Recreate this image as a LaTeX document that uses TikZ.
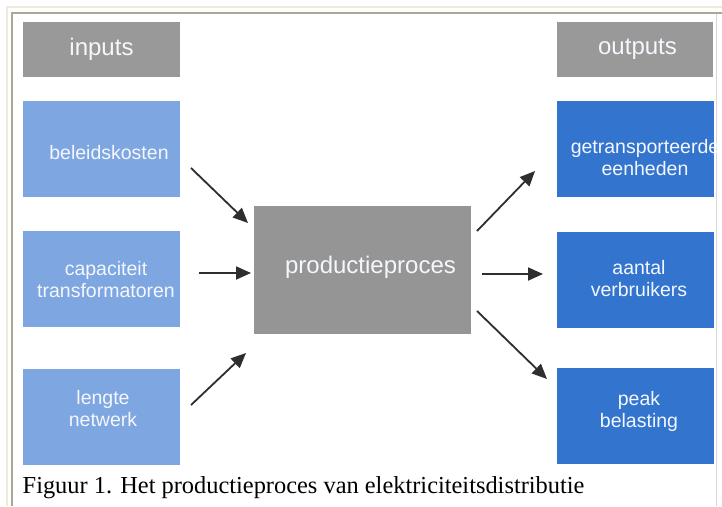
\documentclass[tikz,border=0pt]{standalone}
\usepackage{fontspec}
\setmainfont{Liberation Sans}
\newfontfamily\capfont{Liberation Serif}
\usetikzlibrary{arrows.meta}
\definecolor{lblue}{HTML}{7EA6E0}
\definecolor{dblue}{HTML}{3274CE}
\definecolor{hgrey}{HTML}{999999}
\definecolor{pgrey}{HTML}{959595}
\definecolor{frameA}{HTML}{EEEBDD}
\definecolor{frameB}{HTML}{ACA899}
\definecolor{frameC}{HTML}{D6D6D6}
\definecolor{txtw}{HTML}{F4F7FC}
\definecolor{arrc}{HTML}{2E2E2E}
\tikzset{
  boxbase/.style={draw=none,minimum width=157pt,inner sep=0pt,anchor=center},
  headbox/.style={boxbase,fill=hgrey,minimum height=55pt},
  inbox/.style={boxbase,fill=lblue,minimum height=96pt},
  outbox/.style={boxbase,fill=dblue,minimum height=96pt},
  btxt/.style={text=txtw,align=center,inner sep=0pt,font=\fontsize{19.5}{22}\selectfont},
  htxt/.style={text=txtw,inner sep=0pt,font=\fontsize{24}{28}\selectfont},
  arr/.style={draw=arrc,line width=1.8pt,-{Triangle[length=15pt,width=13pt]}}
}
\begin{document}
\begin{tikzpicture}[x=1pt,y=-1pt]
\useasboundingbox (0,0) rectangle (722,506);
\fill[white] (0,0) rectangle (722,506);
% frame
\draw[frameA,line width=1.5pt] (7,506) -- (7,7) -- (722,7);
\draw[frameB,line width=2pt] (12,506) -- (12,13) -- (722,13);
\draw[frameC,line width=1.5pt] (716.5,14) -- (716.5,506);
% boxes
\node[headbox] (inp) at (101.5,49.5) {};
\node[headbox,minimum width=156pt] (outp) at (635,49.5) {};
\node[inbox] (b1) at (101.5,149) {};
\node[inbox] (b2) at (101.5,279) {};
\node[inbox] (b3) at (101.5,417) {};
\node[outbox,minimum width=157pt] (o1) at (635,149) {};
\node[outbox,minimum width=157pt] (o2) at (635,279.5) {};
\node[outbox,minimum width=157pt] (o3) at (635,416) {};
\node[draw=none,fill=pgrey,minimum width=217pt,minimum height=128pt,inner sep=0pt] (proc) at (362.5,270) {};
% texts
\node[htxt] (tinp) at (101.5,49) {inputs};
\node[htxt] (toutp) at (637.5,49) {outputs};
\node[htxt] (tproc) at (370.5,267.5) {productieproces};
\node[btxt] (tb1) at (109,153) {beleidskosten};
\node[btxt] (tb2) at (106,280) {capaciteit\\transformatoren};
\node[btxt] (tb3) at (103,409) {lengte\\netwerk};
\node[btxt] (to1) at (645,158) {getransporteerde\\eenheden};
\node[btxt] (to2) at (639,278.5) {aantal\\verbruikers};
\node[btxt] (to3) at (639,411.5) {peak\\belasting};
% arrow endpoints
\coordinate (a1s) at (191,168); \coordinate (a1e) at (248,223);
\coordinate (a2s) at (199,273); \coordinate (a2e) at (251,273);
\coordinate (a3s) at (191,405); \coordinate (a3e) at (246,353);
\coordinate (a4s) at (477,231); \coordinate (a4e) at (535,171);
\coordinate (a5s) at (482,274); \coordinate (a5e) at (543,274);
\coordinate (a6s) at (477,311); \coordinate (a6e) at (547,379);
\draw[arr] (a1s) -- (a1e);
\draw[arr] (a2s) -- (a2e);
\draw[arr] (a3s) -- (a3e);
\draw[arr] (a4s) -- (a4e);
\draw[arr] (a5s) -- (a5e);
\draw[arr] (a6s) -- (a6e);
% caption
\node[anchor=base west,inner sep=0pt,font=\capfont\fontsize{24.4}{28}\selectfont] (cap) at (22.5,493) {Figuur 1. Het productieproces van elektriciteitsdistributie};
\end{tikzpicture}
\end{document}
